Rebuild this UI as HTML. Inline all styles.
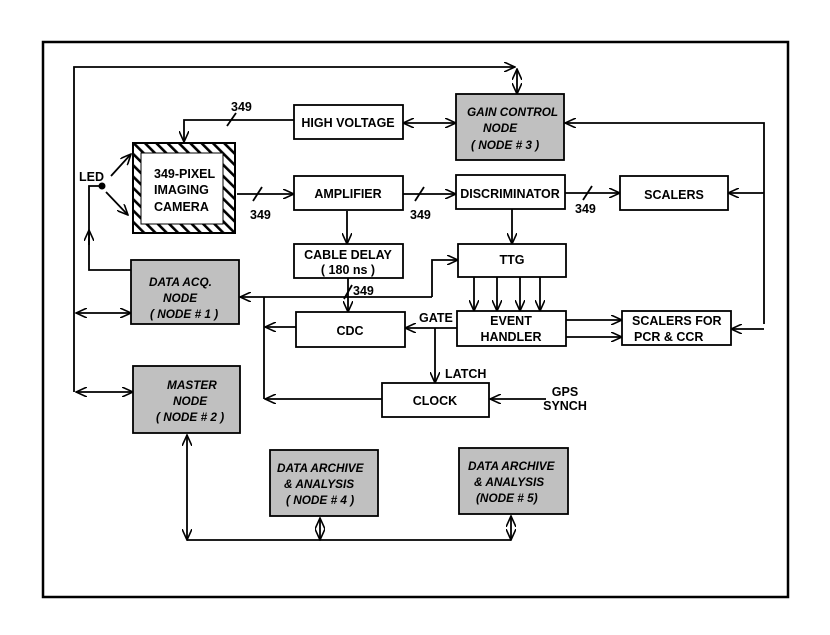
<!DOCTYPE html>
<html><head><meta charset="utf-8"><style>
html,body{margin:0;padding:0;background:#fff}
svg{display:block}
text{font-family:"Liberation Sans",sans-serif;font-weight:bold;font-size:12.5px;fill:#000}
.i{font-style:italic;font-size:11.8px}
.m{text-anchor:middle}
</style></head><body>
<svg width="830" height="635" viewBox="0 0 830 635" xmlns="http://www.w3.org/2000/svg">
<defs>
<marker id="a" viewBox="0 0 12 10" refX="11" refY="5" markerWidth="12" markerHeight="10" markerUnits="userSpaceOnUse" orient="auto-start-reverse">
<path d="M0,0 L11,5 L0,10" fill="none" stroke="#000" stroke-width="1.6"/>
</marker>
<pattern id="h" width="8" height="8" patternUnits="userSpaceOnUse" patternTransform="rotate(-45)">
<rect width="8" height="8" fill="#fff"/><rect width="2.6" height="8" fill="#000"/>
</pattern>
</defs>
<rect x="43" y="42" width="745" height="555" fill="none" stroke="#000" stroke-width="2.5"/>
<g fill="none" stroke="#000" stroke-width="1.8">
<polyline points="74,392 74,67 515,67" marker-end="url(#a)"/>
<line x1="517" y1="69" x2="517" y2="94" marker-start="url(#a)" marker-end="url(#a)"/>
<line x1="76" y1="313" x2="131" y2="313" marker-start="url(#a)" marker-end="url(#a)"/>
<line x1="76" y1="392" x2="133" y2="392" marker-start="url(#a)" marker-end="url(#a)"/>
<line x1="403" y1="123" x2="456" y2="123" marker-start="url(#a)" marker-end="url(#a)"/>
<polyline points="294,120 184,120 184,142" marker-end="url(#a)"/>
<line x1="227" y1="126" x2="236" y2="113"/>
<line x1="237" y1="194" x2="294" y2="194" marker-end="url(#a)"/>
<line x1="253" y1="201" x2="262" y2="187"/>
<line x1="403" y1="194" x2="456" y2="194" marker-end="url(#a)"/>
<line x1="415" y1="201" x2="424" y2="187"/>
<line x1="565" y1="193" x2="620" y2="193" marker-end="url(#a)"/>
<line x1="583" y1="200" x2="592" y2="186"/>
<line x1="347" y1="211" x2="347" y2="244" marker-end="url(#a)"/>
<line x1="512" y1="209" x2="512" y2="244" marker-end="url(#a)"/>
<polyline points="132,270 89,270 89,186 102,186"/>
<line x1="89" y1="245" x2="89" y2="230" marker-end="url(#a)"/>
<line x1="111" y1="176" x2="131" y2="154" marker-end="url(#a)"/>
<line x1="106" y1="192" x2="128" y2="215" marker-end="url(#a)"/>
<polyline points="764,324 764,123 565,123" marker-end="url(#a)"/>
<line x1="764" y1="193" x2="728" y2="193" marker-end="url(#a)"/>
<line x1="764" y1="329" x2="731" y2="329" marker-end="url(#a)"/>
<line x1="432" y1="297" x2="240" y2="297" marker-end="url(#a)"/>
<polyline points="432,297 432,260 458,260" marker-end="url(#a)"/>
<line x1="264" y1="297" x2="264" y2="399"/>
<line x1="348" y1="278" x2="348" y2="312" marker-end="url(#a)"/>
<line x1="344" y1="299" x2="352" y2="285"/>
<line x1="296" y1="327" x2="265" y2="327" marker-end="url(#a)"/>
<line x1="457" y1="328" x2="405" y2="328" marker-end="url(#a)"/>
<line x1="435" y1="328" x2="435" y2="383" marker-end="url(#a)"/>
<line x1="382" y1="399" x2="265" y2="399" marker-end="url(#a)"/>
<line x1="546" y1="399" x2="490" y2="399" marker-end="url(#a)"/>
<line x1="474" y1="277" x2="474" y2="311" marker-end="url(#a)"/>
<line x1="497" y1="277" x2="497" y2="311" marker-end="url(#a)"/>
<line x1="520" y1="277" x2="520" y2="311" marker-end="url(#a)"/>
<line x1="540" y1="277" x2="540" y2="311" marker-end="url(#a)"/>
<line x1="566" y1="320" x2="622" y2="320" marker-end="url(#a)"/>
<line x1="566" y1="337" x2="622" y2="337" marker-end="url(#a)"/>
<line x1="187" y1="435" x2="187" y2="540" marker-start="url(#a)" marker-end="url(#a)"/>
<line x1="187" y1="540" x2="511" y2="540"/>
<line x1="320" y1="518" x2="320" y2="540" marker-start="url(#a)" marker-end="url(#a)"/>
<line x1="511" y1="516" x2="511" y2="540" marker-start="url(#a)" marker-end="url(#a)"/>
</g>
<circle cx="102" cy="186" r="3.5" fill="#000"/>
<rect x="133" y="143" width="102" height="90" fill="url(#h)" stroke="#000" stroke-width="2"/>
<rect x="141" y="153" width="82" height="71" fill="#fff" stroke="#000" stroke-width="1"/>
<g fill="#fff" stroke="#000" stroke-width="1.8">
<rect x="294" y="105" width="109" height="34"/>
<rect x="294" y="176" width="109" height="34"/>
<rect x="456" y="175" width="109" height="34"/>
<rect x="620" y="176" width="108" height="34"/>
<rect x="294" y="244" width="109" height="34"/>
<rect x="458" y="244" width="108" height="33"/>
<rect x="296" y="312" width="109" height="35"/>
<rect x="457" y="311" width="109" height="35"/>
<rect x="622" y="311" width="109" height="34"/>
<rect x="382" y="383" width="107" height="34"/>
</g>
<g fill="#c0c0c0" stroke="#000" stroke-width="1.8">
<rect x="456" y="94" width="108" height="66"/>
<rect x="131" y="260" width="108" height="64"/>
<rect x="133" y="366" width="107" height="67"/>
<rect x="270" y="450" width="108" height="66"/>
<rect x="459" y="448" width="109" height="66"/>
</g>
<text class="m" x="348" y="127">HIGH VOLTAGE</text>
<text class="m" x="348" y="198">AMPLIFIER</text>
<text class="m" x="510" y="198">DISCRIMINATOR</text>
<text class="m" x="674" y="199">SCALERS</text>
<text class="m" x="348" y="259">CABLE  DELAY</text>
<text class="m" x="348" y="274">( 180 ns )</text>
<text class="m" x="512" y="264">TTG</text>
<text class="m" x="350" y="335">CDC</text>
<text class="m" x="511" y="325">EVENT</text>
<text class="m" x="511" y="341">HANDLER</text>
<text x="632" y="325">SCALERS   FOR</text>
<text x="634" y="341">PCR &amp; CCR</text>
<text class="m" x="435" y="405">CLOCK</text>
<text class="m" x="565" y="396">GPS</text>
<text class="m" x="565" y="410">SYNCH</text>
<text x="419" y="322">GATE</text>
<text x="445" y="378">LATCH</text>
<text x="353" y="295">349</text>
<text x="231" y="111">349</text>
<text x="250" y="219">349</text>
<text x="410" y="219">349</text>
<text x="575" y="213">349</text>
<text x="79" y="181">LED</text>
<text x="154" y="178">349-PIXEL</text>
<text x="154" y="194">IMAGING</text>
<text x="154" y="211">CAMERA</text>
<text class="i" x="467" y="116">GAIN  CONTROL</text>
<text class="i" x="483" y="132">NODE</text>
<text class="i" x="471" y="149">( NODE # 3 )</text>
<text class="i" x="149" y="286">DATA  ACQ.</text>
<text class="i" x="163" y="302">NODE</text>
<text class="i" x="150" y="318">( NODE # 1 )</text>
<text class="i" x="167" y="389">MASTER</text>
<text class="i" x="173" y="405">NODE</text>
<text class="i" x="156" y="421">( NODE # 2 )</text>
<text class="i" x="277" y="472">DATA  ARCHIVE</text>
<text class="i" x="284" y="488">&amp; ANALYSIS</text>
<text class="i" x="286" y="504">( NODE # 4 )</text>
<text class="i" x="468" y="470">DATA  ARCHIVE</text>
<text class="i" x="474" y="486">&amp; ANALYSIS</text>
<text class="i" x="476" y="502">(NODE # 5)</text>
</svg>
</body></html>
